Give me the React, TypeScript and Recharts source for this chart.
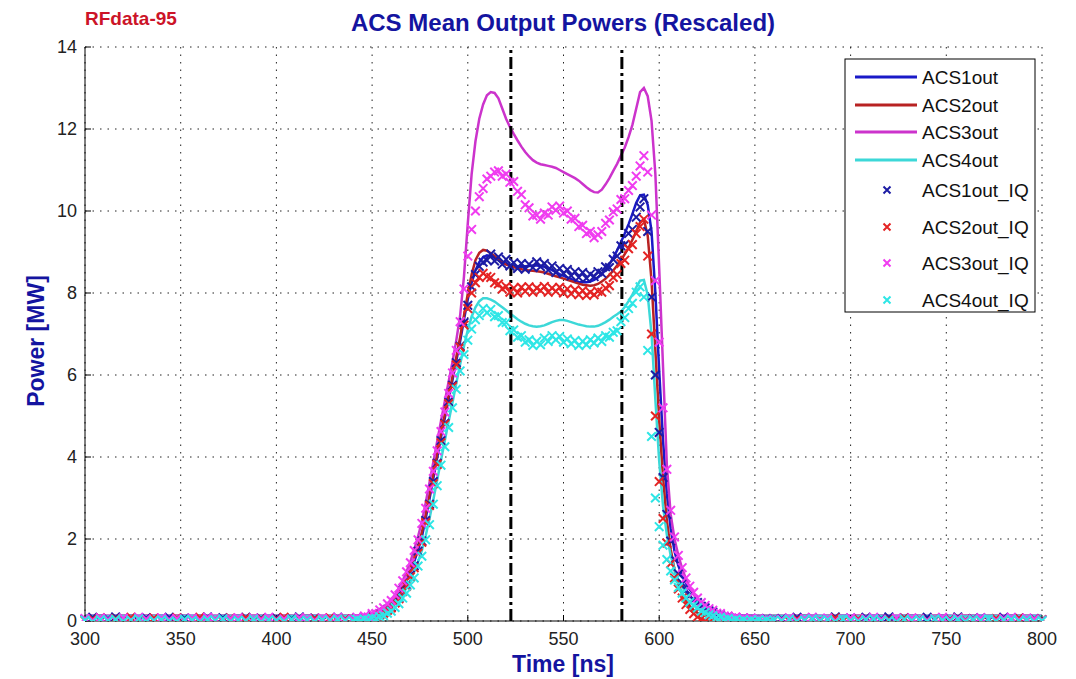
import { LineChart, Line, XAxis, YAxis, CartesianGrid, ReferenceLine } from "recharts";

const FONT = '"Liberation Sans", Arial, Helvetica, sans-serif';

// sample times [ns]: sparse on the flat baseline, 2 ns across the pulse
const TIME = [
  300, 304, 308, 312, 316, 320, 324, 328, 332, 336,
  340, 344, 348, 352, 356, 360, 364, 368, 372, 376,
  380, 384, 388, 392, 396, 400, 404, 408, 412, 416,
  420, 424, 428, 432, 436,
  440, 442, 444, 446, 448, 450, 452, 454, 456, 458,
  460, 462, 464, 466, 468, 470, 472, 474, 476, 478,
  480, 482, 484, 486, 488, 490, 492, 494, 496, 498,
  500, 502, 504, 506, 508, 510, 512, 514, 516, 518,
  520, 522, 524, 526, 528, 530, 532, 534, 536, 538,
  540, 542, 544, 546, 548, 550, 552, 554, 556, 558,
  560, 562, 564, 566, 568, 570, 572, 574, 576, 578,
  580, 582, 584, 586, 588, 590, 592, 594, 596, 598,
  600, 602, 604, 606, 608, 610, 612, 614, 616, 618,
  620, 622, 624, 626, 628, 630, 632, 634, 636, 638,
  640, 642, 644, 646, 648, 650, 652, 654, 656, 658,
  660,
  664, 668, 672, 676, 680, 684, 688, 692, 696, 700,
  704, 708, 712, 716, 720, 724, 728, 732, 736, 740,
  744, 748, 752, 756, 760, 764, 768, 772, 776, 780,
  784, 788, 792, 796, 800,
];

// ACS1out [MW]
const ACS1 = [
  0.12, 0.12, 0.13, 0.12, 0.12, 0.12, 0.13, 0.12, 0.12, 0.12,
  0.13, 0.12, 0.12, 0.12, 0.12, 0.13, 0.12, 0.12, 0.12, 0.12,
  0.13, 0.12, 0.12, 0.12, 0.13, 0.12, 0.12, 0.12, 0.12, 0.13,
  0.12, 0.12, 0.12, 0.12, 0.12,
  0.12, 0.12, 0.13, 0.14, 0.15, 0.17, 0.2, 0.24, 0.29, 0.35,
  0.42, 0.52, 0.65, 0.8, 0.98, 1.2, 1.45, 1.73, 2.05, 2.5,
  2.98, 3.48, 3.98, 4.48, 4.95, 5.42, 5.88, 6.35, 6.82, 7.35,
  7.85, 8.25, 8.55, 8.75, 8.87, 8.92, 8.9, 8.86, 8.8, 8.74,
  8.7, 8.67, 8.65, 8.64, 8.64, 8.65, 8.66, 8.67, 8.67, 8.66,
  8.64, 8.6, 8.56, 8.51, 8.46, 8.42, 8.38, 8.34, 8.3, 8.27,
  8.26, 8.26, 8.28, 8.32, 8.38, 8.46, 8.57, 8.7, 8.86, 9.04,
  9.24, 9.45, 9.68, 9.93, 10.2, 10.38, 10.4, 10.15, 9.5, 8.0,
  6.1, 4.4, 3.1, 2.25, 1.7, 1.35, 1.1, 0.92, 0.77, 0.65,
  0.55, 0.46, 0.39, 0.33, 0.28, 0.24, 0.21, 0.18, 0.16, 0.15,
  0.14, 0.14, 0.13, 0.13, 0.13, 0.12, 0.12, 0.12, 0.12, 0.12,
  0.12,
  0.12, 0.12, 0.12, 0.13, 0.12, 0.12, 0.12, 0.12, 0.13, 0.12,
  0.12, 0.12, 0.13, 0.12, 0.12, 0.12, 0.12, 0.13, 0.12, 0.12,
  0.12, 0.13, 0.12, 0.12, 0.12, 0.12, 0.13, 0.12, 0.12, 0.12,
  0.13, 0.12, 0.12, 0.12, 0.12,
];

// ACS2out [MW]
const ACS2 = [
  0.11, 0.12, 0.12, 0.11, 0.12, 0.12, 0.12, 0.11, 0.12, 0.12,
  0.11, 0.12, 0.12, 0.12, 0.11, 0.12, 0.12, 0.11, 0.12, 0.12,
  0.12, 0.11, 0.12, 0.12, 0.11, 0.12, 0.12, 0.12, 0.11, 0.12,
  0.12, 0.11, 0.12, 0.12, 0.12,
  0.12, 0.12, 0.13, 0.14, 0.15, 0.17, 0.2, 0.24, 0.3, 0.37,
  0.45, 0.56, 0.7, 0.86, 1.05, 1.28, 1.54, 1.83, 2.16, 2.6,
  3.08, 3.58, 4.08, 4.57, 5.04, 5.5, 5.96, 6.44, 6.92, 7.45,
  7.98, 8.45, 8.8, 8.98, 9.05, 9.03, 8.97, 8.9, 8.82, 8.75,
  8.7, 8.66, 8.63, 8.6, 8.58, 8.56, 8.55, 8.54, 8.53, 8.52,
  8.5, 8.47, 8.44, 8.41, 8.38, 8.35, 8.32, 8.29, 8.26, 8.23,
  8.2, 8.19, 8.18, 8.19, 8.22, 8.28, 8.35, 8.44, 8.55, 8.67,
  8.8, 8.95, 9.1, 9.3, 9.5, 9.72, 9.8, 9.4, 8.3, 6.6,
  4.9, 3.5, 2.45, 1.75, 1.25, 0.9, 0.66, 0.48, 0.36, 0.27,
  0.2, 0.16, 0.14, 0.12, 0.11, 0.11, 0.11, 0.11, 0.11, 0.11,
  0.11, 0.11, 0.12, 0.12, 0.12, 0.12, 0.12, 0.12, 0.12, 0.12,
  0.12,
  0.12, 0.11, 0.12, 0.12, 0.12, 0.11, 0.12, 0.12, 0.11, 0.12,
  0.12, 0.12, 0.11, 0.12, 0.12, 0.11, 0.12, 0.12, 0.12, 0.11,
  0.12, 0.12, 0.11, 0.12, 0.12, 0.12, 0.11, 0.12, 0.12, 0.11,
  0.12, 0.12, 0.12, 0.11, 0.12,
];

// ACS3out [MW]
const ACS3 = [
  0.13, 0.13, 0.12, 0.13, 0.13, 0.13, 0.12, 0.13, 0.13, 0.13,
  0.12, 0.13, 0.13, 0.13, 0.13, 0.12, 0.13, 0.13, 0.13, 0.12,
  0.13, 0.13, 0.13, 0.12, 0.13, 0.13, 0.13, 0.13, 0.12, 0.13,
  0.13, 0.13, 0.12, 0.13, 0.13,
  0.12, 0.13, 0.14, 0.15, 0.17, 0.2, 0.24, 0.29, 0.35, 0.43,
  0.52, 0.64, 0.8, 0.98, 1.2, 1.45, 1.74, 2.06, 2.42, 2.88,
  3.38, 3.88, 4.38, 4.88, 5.36, 5.84, 6.32, 6.85, 7.45, 8.4,
  9.7, 10.9, 11.7, 12.25, 12.6, 12.82, 12.9, 12.88, 12.75, 12.5,
  12.25, 12.05, 11.88, 11.72, 11.57, 11.44, 11.33, 11.24, 11.18, 11.14,
  11.12, 11.1, 11.08, 11.05, 11.0, 10.95, 10.9, 10.85, 10.8, 10.74,
  10.66, 10.58, 10.51, 10.46, 10.45, 10.52, 10.65, 10.8, 10.98, 11.15,
  11.35, 11.55, 11.8, 12.1, 12.5, 12.9, 13.0, 12.8, 12.2, 10.9,
  8.6, 6.2, 3.8, 2.6, 2.0, 1.6, 1.28, 1.02, 0.82, 0.65,
  0.52, 0.42, 0.35, 0.29, 0.25, 0.22, 0.19, 0.17, 0.16, 0.15,
  0.14, 0.14, 0.13, 0.13, 0.13, 0.13, 0.13, 0.12, 0.12, 0.12,
  0.12,
  0.12, 0.13, 0.13, 0.12, 0.13, 0.13, 0.13, 0.12, 0.13, 0.13,
  0.13, 0.12, 0.13, 0.13, 0.13, 0.13, 0.12, 0.13, 0.13, 0.12,
  0.13, 0.13, 0.13, 0.12, 0.13, 0.13, 0.12, 0.13, 0.13, 0.13,
  0.12, 0.13, 0.13, 0.13, 0.12,
];

// ACS4out [MW]
const ACS4 = [
  0.12, 0.12, 0.12, 0.11, 0.12, 0.12, 0.12, 0.12, 0.11, 0.12,
  0.12, 0.12, 0.11, 0.12, 0.12, 0.12, 0.12, 0.11, 0.12, 0.12,
  0.12, 0.12, 0.11, 0.12, 0.12, 0.12, 0.11, 0.12, 0.12, 0.12,
  0.12, 0.11, 0.12, 0.12, 0.12,
  0.12, 0.12, 0.12, 0.13, 0.14, 0.15, 0.17, 0.2, 0.24, 0.29,
  0.35, 0.43, 0.53, 0.66, 0.81, 0.99, 1.2, 1.44, 1.72, 2.08,
  2.5, 2.96, 3.44, 3.92, 4.4, 4.87, 5.33, 5.8, 6.26, 6.7,
  7.1, 7.42, 7.65, 7.8, 7.87, 7.87, 7.84, 7.79, 7.72, 7.65,
  7.58, 7.5, 7.43, 7.36, 7.3, 7.25, 7.21, 7.19, 7.18, 7.19,
  7.21, 7.25, 7.29, 7.32, 7.34, 7.34, 7.32, 7.29, 7.26, 7.23,
  7.21, 7.19, 7.18, 7.18, 7.2, 7.24, 7.29, 7.35, 7.42, 7.48,
  7.55, 7.66, 7.8, 7.96, 8.14, 8.3, 8.32, 7.95, 7.0, 5.4,
  3.9, 2.8, 2.1, 1.6, 1.25, 1.0, 0.83, 0.69, 0.58, 0.49,
  0.41, 0.35, 0.3, 0.26, 0.23, 0.2, 0.18, 0.16, 0.15, 0.14,
  0.13, 0.13, 0.13, 0.12, 0.12, 0.12, 0.12, 0.12, 0.12, 0.12,
  0.12,
  0.12, 0.12, 0.11, 0.12, 0.12, 0.12, 0.12, 0.11, 0.12, 0.12,
  0.11, 0.12, 0.12, 0.12, 0.12, 0.11, 0.12, 0.12, 0.12, 0.12,
  0.11, 0.12, 0.12, 0.12, 0.11, 0.12, 0.12, 0.12, 0.12, 0.11,
  0.12, 0.12, 0.12, 0.12, 0.12,
];

// ACS1out_IQ [MW]
const IQ1 = [
  0.04, 0.09, 0.01, 0.06, 0.1, 0.03, 0.07, 0.0, 0.08, 0.05,
  0.02, 0.09, 0.04, 0.07, 0.01, 0.06, 0.1, 0.03, 0.08, 0.02,
  0.05, 0.09, 0.0, 0.07, 0.04, 0.08, 0.02, 0.06, 0.1, 0.03,
  0.07, 0.01, 0.05, 0.09, 0.04,
  0.04, 0.08, 0.02, 0.09, 0.06, 0.12, 0.1, 0.17, 0.2, 0.28,
  0.34, 0.46, 0.56, 0.75, 0.88, 1.12, 1.35, 1.7, 1.95, 2.45,
  2.85, 3.4, 3.85, 4.4, 4.82, 5.35, 5.75, 6.3, 6.7, 7.28,
  7.7, 8.15, 8.45, 8.65, 8.75, 8.8, 8.95, 8.78, 8.88, 8.7,
  8.82, 8.66, 8.74, 8.6, 8.72, 8.58, 8.7, 8.62, 8.76, 8.64,
  8.72, 8.56, 8.66, 8.5, 8.6, 8.48, 8.57, 8.42, 8.52, 8.38,
  8.5, 8.36, 8.46, 8.4, 8.52, 8.48, 8.64, 8.62, 8.82, 8.9,
  9.15, 9.18, 9.45, 9.55, 9.85, 10.1, 10.3, 9.5, 7.9, 6.0,
  4.6, 3.5, 2.6, 1.95, 1.5, 1.15, 0.92, 0.76, 0.62, 0.52,
  0.45, 0.36, 0.32, 0.25, 0.22, 0.16, 0.15, 0.1, 0.11, 0.06,
  0.08, 0.04, 0.07, 0.02, 0.06, 0.03, 0.05, 0.01, 0.06, 0.02,
  0.05,
  0.06, 0.02, 0.09, 0.04, 0.08, 0.01, 0.05, 0.1, 0.03, 0.07,
  0.04, 0.09, 0.02, 0.06, 0.1, 0.03, 0.08, 0.01, 0.05, 0.09,
  0.03, 0.07, 0.04, 0.1, 0.02, 0.06, 0.08, 0.01, 0.05, 0.09,
  0.04, 0.07, 0.02, 0.06, 0.03,
];

// ACS2out_IQ [MW]
const IQ2 = [
  0.01, 0.05, 0.08, 0.02, 0.06, 0.0, 0.09, 0.04, 0.03, 0.07,
  0.05, 0.01, 0.08, 0.03, 0.06, 0.09, 0.02, 0.05, 0.0, 0.07,
  0.04, 0.08, 0.02, 0.06, 0.01, 0.05, 0.09, 0.03, 0.07, 0.02,
  0.06, 0.04, 0.08, 0.01, 0.05,
  0.02, 0.06, 0.01, 0.07, 0.04, 0.1, 0.09, 0.15, 0.19, 0.26,
  0.32, 0.44, 0.54, 0.72, 0.85, 1.08, 1.3, 1.65, 1.92, 2.4,
  2.82, 3.35, 3.82, 4.35, 4.8, 5.3, 5.72, 6.25, 6.68, 7.22,
  7.62, 8.0, 8.25, 8.38, 8.48, 8.4, 8.38, 8.25, 8.22, 8.1,
  8.16, 8.02, 8.12, 8.0, 8.14, 8.04, 8.15, 8.02, 8.12, 8.06,
  8.16, 8.02, 8.12, 8.04, 8.14, 8.0, 8.1, 7.98, 8.08, 7.96,
  8.06, 7.94, 8.02, 7.96, 8.04, 8.02, 8.12, 8.18, 8.38, 8.45,
  8.72, 8.8, 9.08, 9.18, 9.45, 9.62, 9.8, 8.9, 7.0, 5.0,
  3.4, 2.5, 1.9, 1.4, 1.05, 0.78, 0.56, 0.4, 0.28, 0.18,
  0.1, 0.05, 0.0, -0.04, -0.05, -0.07, -0.05, -0.06, -0.03, -0.04,
  0.0, -0.02, 0.02, 0.0, 0.03, 0.01, 0.04, 0.0, 0.03, 0.01,
  0.02,
  0.03, 0.0, 0.05, 0.02, 0.06, 0.01, 0.04, 0.07, 0.0, 0.03,
  0.05, 0.02, 0.06, 0.01, 0.04, 0.0, 0.07, 0.03, 0.05, 0.02,
  0.06, 0.01, 0.04, 0.07, 0.02, 0.05, 0.0, 0.03, 0.06, 0.01,
  0.04, 0.07, 0.02, 0.05, 0.03,
];

// ACS3out_IQ [MW]
const IQ3 = [
  0.06, 0.02, 0.08, 0.04, 0.01, 0.07, 0.03, 0.09, 0.05, 0.02,
  0.08, 0.04, 0.06, 0.0, 0.07, 0.03, 0.09, 0.05, 0.01, 0.06,
  0.08, 0.02, 0.07, 0.04, 0.09, 0.03, 0.05, 0.01, 0.08, 0.06,
  0.02, 0.07, 0.04, 0.09, 0.03,
  0.05, 0.09, 0.05, 0.12, 0.1, 0.18, 0.18, 0.27, 0.32, 0.42,
  0.5, 0.64, 0.8, 0.98, 1.2, 1.42, 1.72, 1.98, 2.38, 2.75,
  3.22, 3.65, 4.15, 4.62, 5.1, 5.55, 6.05, 6.6, 7.3, 8.1,
  8.9, 9.55, 10.0, 10.35, 10.55, 10.78, 10.85, 10.95, 10.98, 10.85,
  10.9, 10.7, 10.72, 10.48, 10.4, 10.15, 10.08, 9.88, 9.9, 9.8,
  9.95, 9.9, 10.1, 10.02, 10.12, 9.95, 10.0, 9.8, 9.82, 9.62,
  9.65, 9.45, 9.5, 9.35, 9.42, 9.5, 9.7, 9.78, 9.98, 10.05,
  10.28, 10.3, 10.5, 10.62, 10.85, 11.1, 11.35, 10.95, 9.9, 8.3,
  6.8, 5.2, 3.7, 2.7, 2.05, 1.6, 1.3, 1.05, 0.85, 0.7,
  0.56, 0.45, 0.38, 0.3, 0.26, 0.19, 0.18, 0.12, 0.12, 0.07,
  0.1, 0.05, 0.08, 0.03, 0.07, 0.02, 0.06, 0.02, 0.05, 0.01,
  0.04,
  0.04, 0.08, 0.02, 0.06, 0.09, 0.03, 0.07, 0.01, 0.05, 0.08,
  0.02, 0.06, 0.09, 0.04, 0.01, 0.07, 0.03, 0.08, 0.05, 0.02,
  0.06, 0.09, 0.03, 0.07, 0.01, 0.05, 0.08, 0.04, 0.02, 0.06,
  0.09, 0.03, 0.07, 0.05, 0.02,
];

// ACS4out_IQ [MW]
const IQ4 = [
  0.02, -0.02, 0.03, 0.0, 0.04, -0.01, 0.02, 0.05, -0.02, 0.01,
  0.03, 0.0, -0.01, 0.04, 0.02, -0.02, 0.03, 0.01, 0.05, -0.01,
  0.02, 0.0, 0.04, -0.02, 0.03, 0.01, -0.01, 0.04, 0.0, 0.02,
  -0.02, 0.03, 0.01, 0.04, 0.0,
  0.0, 0.04, 0.01, 0.05, 0.03, 0.07, 0.06, 0.11, 0.13, 0.19,
  0.24, 0.33, 0.42, 0.56, 0.68, 0.88, 1.05, 1.34, 1.58, 1.98,
  2.35, 2.85, 3.3, 3.8, 4.25, 4.72, 5.2, 5.65, 6.1, 6.5,
  6.85, 7.12, 7.35, 7.45, 7.62, 7.52, 7.6, 7.42, 7.45, 7.28,
  7.28, 7.08, 7.1, 6.92, 6.96, 6.8, 6.86, 6.72, 6.82, 6.74,
  6.9, 6.82, 6.96, 6.86, 6.94, 6.8, 6.88, 6.76, 6.84, 6.72,
  6.82, 6.74, 6.86, 6.78, 6.9, 6.82, 6.96, 6.92, 7.04, 7.08,
  7.3, 7.4, 7.62, 7.75, 8.02, 8.15, 7.9, 6.6, 4.5, 3.0,
  2.3, 1.85, 1.5, 1.22, 1.0, 0.82, 0.68, 0.56, 0.46, 0.38,
  0.32, 0.24, 0.21, 0.15, 0.13, 0.08, 0.09, 0.04, 0.06, 0.02,
  0.04, 0.0, 0.03, -0.01, 0.02, 0.0, 0.03, -0.01, 0.02, 0.0,
  0.02,
  0.01, 0.04, -0.01, 0.02, 0.05, 0.0, 0.03, -0.02, 0.04, 0.01,
  -0.01, 0.03, 0.05, 0.0, 0.02, -0.02, 0.04, 0.01, 0.03, -0.01,
  0.05, 0.02, 0.0, 0.04, -0.02, 0.03, 0.01, 0.05, -0.01, 0.02,
  0.04, 0.0, 0.03, -0.02, 0.01,
];

const X_TICKS = [300, 350, 400, 450, 500, 550, 600, 650, 700, 750, 800];
const Y_TICKS = [0, 2, 4, 6, 8, 10, 12, 14];
// pulse window markers [ns]
const WINDOW = [522.5, 580.5];

const LINES = [
  { key: "a1", name: "ACS1out", color: "#1a1ac8" },
  { key: "a2", name: "ACS2out", color: "#b82222" },
  { key: "a3", name: "ACS3out", color: "#cc33cc" },
  { key: "a4", name: "ACS4out", color: "#3cd8d8" },
];
const MARKS = [
  { key: "q1", name: "ACS1out_IQ", color: "#1c1ca4" },
  { key: "q2", name: "ACS2out_IQ", color: "#e42424" },
  { key: "q3", name: "ACS3out_IQ", color: "#f03cf0" },
  { key: "q4", name: "ACS4out_IQ", color: "#2ee6e6" },
];

const BLUE_TXT = "#1414a0";

const xMark = (color: string, s = 4.3) => (p: any) => {
  const k = `${p.dataKey}-${p.index}`;
  if (p.cx == null || p.cy == null) return <g key={k} />;
  const { cx, cy } = p;
  return (
    <path
      key={k}
      d={`M${cx - s},${cy - s}L${cx + s},${cy + s}M${cx - s},${cy + s}L${cx + s},${cy - s}`}
      stroke={color}
      strokeWidth={2}
      fill="none"
    />
  );
};

export default function App() {
  const rows = TIME.map((t, i) => ({
    t,
    a1: ACS1[i],
    a2: ACS2[i],
    a3: ACS3[i],
    a4: ACS4[i],
    q1: IQ1[i],
    q2: IQ2[i],
    q3: IQ3[i],
    q4: IQ4[i],
  }));

  const tickStyle = { fill: "#222", fontSize: 18, fontFamily: FONT };

  // legend row centres
  const lineRows = [77, 105, 132, 160];
  const markRows = [190, 227, 263, 300];

  return (
    <div style={{ position: "absolute", left: 0, top: 0, width: 1076, height: 679, background: "#fff" }}>
      <LineChart width={1076} height={679} data={rows} margin={{ top: 47, right: 34, bottom: 28, left: 25 }}>
        <CartesianGrid stroke="#222" strokeDasharray="1.5 6" />
        <XAxis
          dataKey="t"
          type="number"
          domain={[300, 800]}
          ticks={X_TICKS}
          height={30}
          tickSize={-6}
          tickMargin={17}
          tick={tickStyle}
          stroke="#000"
          tickLine={{ stroke: "#000" }}
          axisLine={{ stroke: "#000" }}
        />
        <XAxis
          xAxisId="top"
          orientation="top"
          dataKey="t"
          type="number"
          domain={[300, 800]}
          ticks={X_TICKS}
          height={0}
          tickSize={-6}
          tick={false}
          tickLine={{ stroke: "#000" }}
          axisLine={{ stroke: "#000" }}
        />
        <YAxis
          type="number"
          domain={[0, 14]}
          ticks={Y_TICKS}
          allowDataOverflow
          width={60}
          tickSize={-6}
          tickMargin={14}
          tick={tickStyle}
          tickLine={{ stroke: "#000" }}
          axisLine={{ stroke: "#000" }}
        />
        <YAxis
          yAxisId="right"
          orientation="right"
          type="number"
          domain={[0, 14]}
          ticks={Y_TICKS}
          width={0}
          tickSize={-6}
          tick={false}
          tickLine={{ stroke: "#000" }}
          axisLine={{ stroke: "#000" }}
        />
        {LINES.map((s) => (
          <Line
            key={s.key}
            type="linear"
            dataKey={s.key}
            name={s.name}
            stroke={s.color}
            strokeWidth={2.5}
            dot={false}
            activeDot={false}
            isAnimationActive={false}
          />
        ))}
        {MARKS.map((s) => (
          <Line
            key={s.key}
            type="linear"
            dataKey={s.key}
            name={s.name}
            stroke="none"
            dot={xMark(s.color)}
            activeDot={false}
            isAnimationActive={false}
          />
        ))}
        {WINDOW.map((x) => (
          <ReferenceLine key={x} x={x} stroke="#000" strokeWidth={3} strokeDasharray="12 4 3 4" />
        ))}
      </LineChart>

      <svg
        width={1076}
        height={679}
        style={{ position: "absolute", left: 0, top: 0, pointerEvents: "none" }}
        fontFamily={FONT}
      >
        <text x={85} y={25} fontSize={19} fontWeight="bold" fill="#cc1428">
          RFdata-95
        </text>
        <text x={563} y={31} fontSize={24} fontWeight="bold" fill={BLUE_TXT} textAnchor="middle">
          ACS Mean Output Powers (Rescaled)
        </text>
        <text x={563} y={672} fontSize={23} fontWeight="bold" fill={BLUE_TXT} textAnchor="middle">
          Time [ns]
        </text>
        <text
          x={44}
          y={341}
          fontSize={23}
          fontWeight="bold"
          fill={BLUE_TXT}
          textAnchor="middle"
          transform="rotate(-90 44 341)"
        >
          Power [MW]
        </text>

        <rect x={845} y={59} width={190} height={253} fill="#fff" stroke="#000" strokeWidth={1} />
        {LINES.map((s, i) => (
          <g key={s.key}>
            <line x1={855} x2={917} y1={lineRows[i]} y2={lineRows[i]} stroke={s.color} strokeWidth={3} />
            <text x={922} y={lineRows[i] + 7} fontSize={19} fill="#111">
              {s.name}
            </text>
          </g>
        ))}
        {MARKS.map((s, i) => {
          const cy = markRows[i];
          const cx = 887;
          const d = 3.5;
          return (
            <g key={s.key}>
              <path
                d={`M${cx - d},${cy - d}L${cx + d},${cy + d}M${cx - d},${cy + d}L${cx + d},${cy - d}`}
                stroke={s.color}
                strokeWidth={2}
                fill="none"
              />
              <text x={922} y={cy + 7} fontSize={19} fill="#111">
                {s.name}
              </text>
            </g>
          );
        })}
      </svg>
    </div>
  );
}
